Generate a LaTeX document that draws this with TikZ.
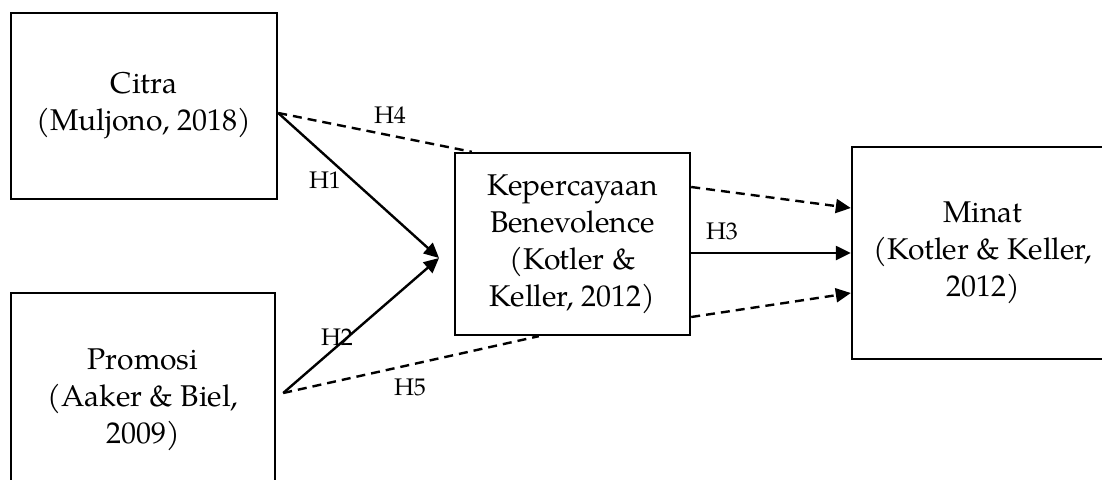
\documentclass[tikz,border=0pt]{standalone}
\usepackage{fontspec}
\setmainfont{TeX Gyre Pagella}
\usepackage{tikz}
\usetikzlibrary{arrows.meta,calc}
\tikzstyle{every box node}=[draw,line width=1.2pt,align=center,font=\fontsize{15}{18.5}\selectfont]
\tikzstyle{hyp}=[font=\fontsize{12}{14}\selectfont,inner sep=0pt]
\tikzstyle{link}=[line width=1.2pt]
\tikzstyle{dlink}=[line width=1.2pt,dash pattern=on 4.5pt off 3pt]
\tikzstyle{tip}=[-{Triangle[length=7.5pt,width=7pt]}]

\begin{document}
\begin{tikzpicture}[x=0.5pt,y=0.5pt]
\useasboundingbox (0,0) rectangle (1102,479);
% variables
\node[every box node,minimum width=133pt,minimum height=93pt] (citra) at (144,373)
  {Citra\\(Muljono, 2018)};
\node[every box node,minimum width=132pt,minimum height=107pt] (promosi) at (143,79)
  {Promosi\\(Aaker \& Biel,\\2009)};
\node[every box node,minimum width=117.5pt,minimum height=91pt] (percaya) at (572.5,235)
  {Kepercayaan\\Benevolence\\(Kotler \&\\Keller, 2012)};
\node[every box node,minimum width=131pt,minimum height=106pt] (minat) at (983,226)
  {Minat\\(Kotler \& Keller,\\2012)};
% meeting point of H1 and H2
\coordinate (meet) at (439,221);
\coordinate (citraout) at ([yshift=-3.5pt]citra.east);
\coordinate (promout) at ([xshift=3.5pt,yshift=3.5pt]promosi.east);
% direct paths
\draw[link,tip] (citraout) -- (meet);
\draw[link,tip] (promout) -- (meet);
\draw[link,tip] (percaya.east |- minat.west) -- (minat.west);
% mediated paths
\draw[dlink] (citraout) -- ([xshift=9pt]percaya.north west);
\draw[dlink] (promout) -- ([xshift=42.5pt]percaya.south west);
\draw[dlink,tip] ([yshift=28.5pt]percaya.east) -- ([yshift=22.5pt]minat.west);
\draw[dlink,tip] ([yshift=-36.5pt]percaya.east) -- ([yshift=-20pt]minat.west);
% labels
\node[hyp] (h1) at (325,299) {H1};
\node[hyp] (h2) at (337,142) {H2};
\node[hyp] (h3) at (722,248) {H3};
\node[hyp] (h4) at (390,364) {H4};
\node[hyp] (h5) at (410,92) {H5};
\end{tikzpicture}
\end{document}
